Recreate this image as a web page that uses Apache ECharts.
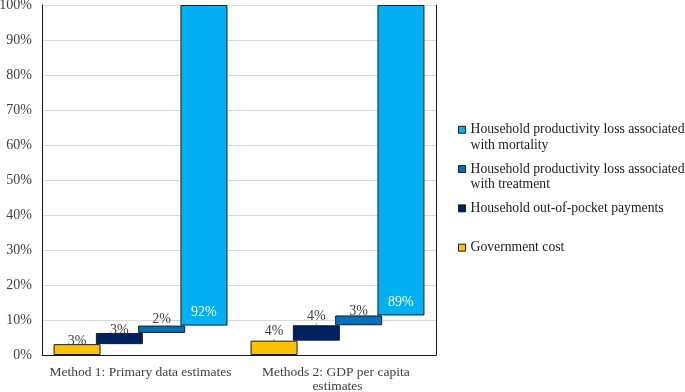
<!DOCTYPE html>
<html style="height: 100%">
<head>
	<meta charset="utf-8">
</head>
<body style="height: 100%; margin: 0">
<div id="container" style="width: 685px; height: 392px"></div>
<script type="text/javascript" src="https://cdn.jsdelivr.net/npm/echarts@6/dist/echarts.min.js"></script>
<script type="text/javascript">
    var categories = ['Method 1: Primary data estimates', 'Methods 2: GDP per capita estimates'];
    var governmentCost = [3.1, 4.1];
    var outOfPocket = [3.2, 4.4];
    var lossTreatment = [2.1, 2.8];
    var lossMortality = [91.6, 88.7];
    var yTicks = [0, 10, 20, 30, 40, 50, 60, 70, 80, 90, 100];

    var names = [
        'Government cost',
        'Household out-of-pocket payments',
        'Household productivity loss associated with treatment',
        'Household productivity loss associated with mortality'
    ];
    // legend text: every item three lines tall so the icon sits on the first real line
    var legendText = {
        'Government cost': ' \nGovernment cost\n ',
        'Household out-of-pocket payments': ' \nHousehold out-of-pocket payments\n ',
        'Household productivity loss associated with treatment': ' \nHousehold productivity loss associated\nwith treatment',
        'Household productivity loss associated with mortality': ' \nHousehold productivity loss associated\nwith mortality'
    };
    var colors = ['#FFC000', '#002060', '#0070C0', '#00B0F0'];
    var levels = [governmentCost, outOfPocket, lossTreatment, lossMortality];
    // label distance from bar top, per category
    var labelDist = [[-4, 1], [-4, 1], [-1, -3], [6, 6]];

    var serif = '"Liberation Serif", "DejaVu Serif", serif';
    var dom = document.getElementById("container");
    var myChart = echarts.init(dom);

    var series = [];
    var running = [0, 0];
    levels.forEach(function (vals, k) {
        var base = running.slice();
        series.push({
            name: 'base' + k,
            type: 'bar',
            stack: 's' + k,
            barWidth: 47,
            barGap: '-10%',
            silent: true,
            itemStyle: { color: 'transparent' },
            data: base
        });
        series.push({
            name: names[k],
            type: 'bar',
            stack: 's' + k,
            barWidth: 47,
            barGap: '-10%',
            itemStyle: { color: colors[k], borderColor: '#1a1a1a', borderWidth: 1 },
            labelLine: { show: k < 2, lineStyle: { color: '#a6a6a6', width: 1 } },
            labelLayout: function (p) {
                if (k < 2 && p.dataIndex === 1) {
                    return { dx: 0, dy: -1 };
                }
                return {};
            },
            data: vals.map(function (v, i) {
                return {
                    value: v,
                    label: {
                        show: true,
                        position: k === 3 ? 'insideBottom' : 'top',
                        distance: labelDist[k][i],
                        color: k === 3 ? '#ffffff' : '#404040',
                        fontFamily: serif,
                        fontSize: 14,
                        formatter: function (p) { return Math.round(p.value) + '%'; }
                    }
                };
            })
        });
        running = running.map(function (r, i) { return r + vals[i]; });
    });

    var option = {
        backgroundColor: '#ffffff',
        animation: false,
        grid: { left: 42, right: 249, top: 5, bottom: 37, containLabel: false, outerBoundsMode: 'none' },
        legend: {
            data: names.slice().reverse(),
            orient: 'vertical',
            left: 458,
            top: 106.5,
            padding: 0,
            itemWidth: 7,
            itemHeight: 7,
            itemGap: -7.2,
            selectedMode: false,
            icon: 'rect',
            itemStyle: { borderColor: '#1a1a1a', borderWidth: 1 },
            formatter: function (name) { return legendText[name]; },
            textStyle: {
                fontFamily: serif,
                fontSize: 13.7,
                color: '#1a1a1a',
                lineHeight: 15.5
            }
        },
        xAxis: {
            type: 'category',
            data: categories,
            axisLine: { lineStyle: { color: '#1a1a1a' } },
            axisTick: { show: false },
            axisLabel: {
                interval: 0,
                margin: 10,
                width: 192,
                overflow: 'break',
                lineHeight: 14,
                color: '#404040',
                fontFamily: serif,
                fontSize: 13.5
            }
        },
        yAxis: [{
            type: 'value',
            min: yTicks[0],
            max: yTicks[yTicks.length - 1],
            interval: 10,
            axisLine: { show: true, lineStyle: { color: '#1a1a1a' } },
            axisTick: { show: false },
            axisLabel: {
                margin: 10,
                color: '#404040',
                fontFamily: serif,
                fontSize: 14,
                formatter: '{value}%'
            },
            splitLine: { lineStyle: { color: '#d9d9d9' } }
        }, {
            type: 'value',
            position: 'right',
            min: 0,
            max: 100,
            axisLine: { show: true, lineStyle: { color: '#1a1a1a' } },
            axisTick: { show: false },
            axisLabel: { show: false },
            splitLine: { show: false }
        }],
        series: series
    };

    myChart.setOption(option, true);
</script>
</body>
</html>
